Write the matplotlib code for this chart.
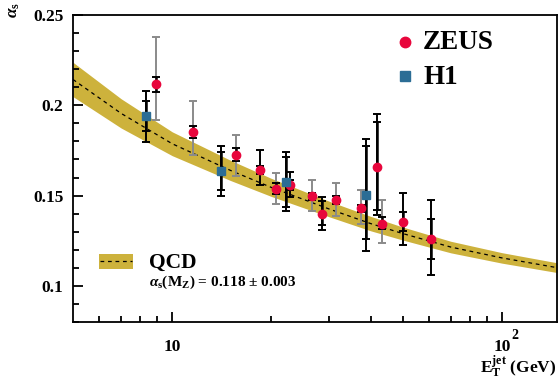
import matplotlib
matplotlib.use("Agg")
import matplotlib.pyplot as plt
from matplotlib.ticker import FixedLocator, NullFormatter, FixedFormatter, MultipleLocator
from matplotlib.patches import Rectangle
from matplotlib.lines import Line2D

# ---------------- data ----------------
zeus_et = [8.9, 11.6, 15.65, 18.5, 20.6, 22.7, 26.6, 28.5, 31.3, 37.3, 41.8, 43.4, 50.0, 61.0]
zeus_as = [0.2117, 0.1851, 0.1722, 0.1642, 0.1537, 0.1559, 0.1496, 0.1398, 0.1476, 0.1429,
           0.1661, 0.1342, 0.1353, 0.1261]
zeus_stat_up = [0.0040, 0.0032, 0.0041, 0.0020, 0.0033, 0.0030, 0.0020, 0.0074, 0.0020, 0.0020,
                0.0246, 0.0037, 0.0054, 0.0109]
zeus_stat_dn = [0.0043, 0.0031, 0.0032, 0.0020, 0.0028, 0.0030, 0.0020, 0.0059, 0.0020, 0.0020,
                0.0241, 0.0028, 0.0051, 0.0113]
zeus_tot_up = [0.0259, 0.0171, 0.0115, 0.0113, 0.0087, 0.0070, 0.0091, 0.0093, 0.0094, 0.0102,
               0.0289, 0.0134, 0.0164, 0.0217]
zeus_tot_dn = [0.0200, 0.0129, 0.0112, 0.0082, 0.0084, 0.0065, 0.0079, 0.0087, 0.0087, 0.0086,
               0.0268, 0.0107, 0.0129, 0.0200]

h1_et = [8.34, 14.1, 22.1, 38.7]
h1_as = [0.1940, 0.1635, 0.1578, 0.1506]
h1_stat_up = [0.0082, 0.0105, 0.0135, 0.0268]
h1_stat_dn = [0.0080, 0.0104, 0.0143, 0.0244]
h1_tot_up = [0.0139, 0.0139, 0.0162, 0.0309]
h1_tot_dn = [0.0144, 0.0135, 0.0165, 0.0312]

qcd_et = [5, 7, 10, 15, 20, 30, 40, 50, 70, 100, 147]
qcd_center = [0.2143, 0.1955, 0.1787, 0.1640, 0.1545, 0.1425, 0.1345, 0.1290, 0.1215, 0.1155, 0.1101]
qcd_upper = [0.2238, 0.2036, 0.1853, 0.1696, 0.1595, 0.1468, 0.1385, 0.1326, 0.1247, 0.1184, 0.1128]
qcd_lower = [0.2048, 0.1874, 0.1721, 0.1584, 0.1495, 0.1382, 0.1305, 0.1254, 0.1183, 0.1126, 0.1074]

x_ticks = [10, 100]
x_tick_labels = ["10", "10"]
y_ticks = [0.10, 0.15, 0.20, 0.25]
y_tick_labels = ["0.1", "0.15", "0.2", "0.25"]

# ---------------- style ----------------
plt.rcParams['font.family'] = ['Liberation Serif', 'DejaVu Serif']
plt.rcParams['font.weight'] = 'bold'
plt.rcParams['mathtext.fontset'] = 'custom'
plt.rcParams['mathtext.rm'] = 'Liberation Serif:bold'
plt.rcParams['mathtext.bf'] = 'Liberation Serif:bold'
plt.rcParams['mathtext.it'] = 'Liberation Serif:italic:bold'

BAND = '#cdb23c'
RED = '#e8063c'
BLUE = '#2b6d95'
GRAY = '#8a8a8a'

zeus_outer_col = [GRAY, GRAY, GRAY, 'black', GRAY, 'black', GRAY, 'black', GRAY, GRAY,
                  'black', GRAY, 'black', 'black']

W, H = 560, 379
fig = plt.figure(figsize=(W / 100, H / 100), dpi=100)
ax = fig.add_axes([73 / W, 1 - 322 / H, (557 - 73) / W, (322 - 15) / H])

def fx(px):
    return px / W

def fy(py):
    return 1 - py / H

ax.fill_between(qcd_et, qcd_lower, qcd_upper, color=BAND, lw=0, zorder=1)
ax.plot(qcd_et, qcd_center, color='black', lw=0.9, ls=(0, (3, 3)), zorder=2)

def draw_bars(x, y, sdn, sup, tdn, tup, cols):
    for i in range(len(x)):
        ax.errorbar([x[i]], [y[i]], yerr=[[tdn[i]], [tup[i]]], fmt='none',
                    ecolor=cols[i], elinewidth=1.4, capsize=3.2, capthick=1.4, zorder=3)
        ax.errorbar([x[i]], [y[i]], yerr=[[sdn[i]], [sup[i]]], fmt='none',
                    ecolor='black', elinewidth=1.8, capsize=3.2, capthick=1.4, zorder=4)

draw_bars(zeus_et, zeus_as, zeus_stat_dn, zeus_stat_up, zeus_tot_dn, zeus_tot_up, zeus_outer_col)
draw_bars(h1_et, h1_as, h1_stat_dn, h1_stat_up, h1_tot_dn, h1_tot_up, ['black'] * len(h1_et))

ax.plot(zeus_et, zeus_as, 'o', color=RED, ms=6, mec=RED, zorder=6)
ax.plot(h1_et, h1_as, 's', color=BLUE, ms=5.5, mec=BLUE, zorder=6)

ax.set_xscale('log')
ax.set_xlim(5, 147)
ax.set_ylim(0.08, 0.25)

ax.xaxis.set_major_locator(FixedLocator(x_ticks))
ax.xaxis.set_major_formatter(FixedFormatter(x_tick_labels))
ax.xaxis.set_minor_locator(FixedLocator([6, 7, 8, 9, 20, 30, 40, 50, 60, 70, 80, 90]))
ax.xaxis.set_minor_formatter(NullFormatter())
ax.yaxis.set_major_locator(FixedLocator(y_ticks))
ax.yaxis.set_major_formatter(FixedFormatter(y_tick_labels))
ax.yaxis.set_minor_locator(MultipleLocator(0.01))

ax.tick_params(which='both', direction='in', top=False, right=False, width=1.3)
ax.tick_params(which='major', length=7)
ax.tick_params(which='minor', length=4)
ax.tick_params(axis='x', which='major', pad=12, labelsize=12.5)
ax.tick_params(axis='y', which='major', pad=7, labelsize=12.5)
for lab in ax.get_xticklabels() + ax.get_yticklabels():
    lab.set_fontweight('bold')
for s in ax.spines.values():
    s.set_linewidth(1.3)

# superscript of 10^2
fig.text(fx(511), fy(339), '2', ha='left', va='baseline', fontsize=10, fontweight='bold')

# axis labels
fig.text(fx(14), fy(2), r'$\alpha_{\rm s}$', rotation=90, ha='center', va='top', fontsize=12.5)
fig.text(fx(557), fy(373), r'$\mathrm{E_{T}^{jet}}$ (GeV)', ha='right', va='baseline',
         fontsize=12.5, fontweight='bold')

# legend: data
fig.add_artist(Line2D([fx(405)], [fy(42)], marker='o', color=RED, ms=7.5, ls='none',
                      transform=fig.transFigure))
fig.text(fx(423), fy(49), 'ZEUS', fontsize=19.5, fontweight='bold', ha='left', va='baseline')
fig.add_artist(Line2D([fx(405)], [fy(76)], marker='s', color=BLUE, ms=7, ls='none',
                      transform=fig.transFigure))
fig.text(fx(423), fy(84), 'H1', fontsize=19.5, fontweight='bold', ha='left', va='baseline')

# legend: QCD
fig.patches.append(Rectangle((fx(99), fy(268.5)), 34 / W, 15 / H, transform=fig.transFigure,
                             facecolor=BAND, edgecolor='none'))
fig.add_artist(Line2D([fx(100), fx(132)], [fy(261), fy(261)], color='black', lw=0.9,
                      ls=(0, (3, 3)), transform=fig.transFigure))
fig.text(fx(149), fy(267.5), 'QCD', fontsize=15.5, fontweight='bold', ha='left', va='baseline')
fig.text(fx(149), fy(285.5), r'$\alpha_{\rm s}$(M$_{\rm Z}$) = 0.118 $\pm$ 0.003', fontsize=11,
         fontweight='bold', ha='left', va='baseline')

fig.savefig('out.png', dpi=100)
